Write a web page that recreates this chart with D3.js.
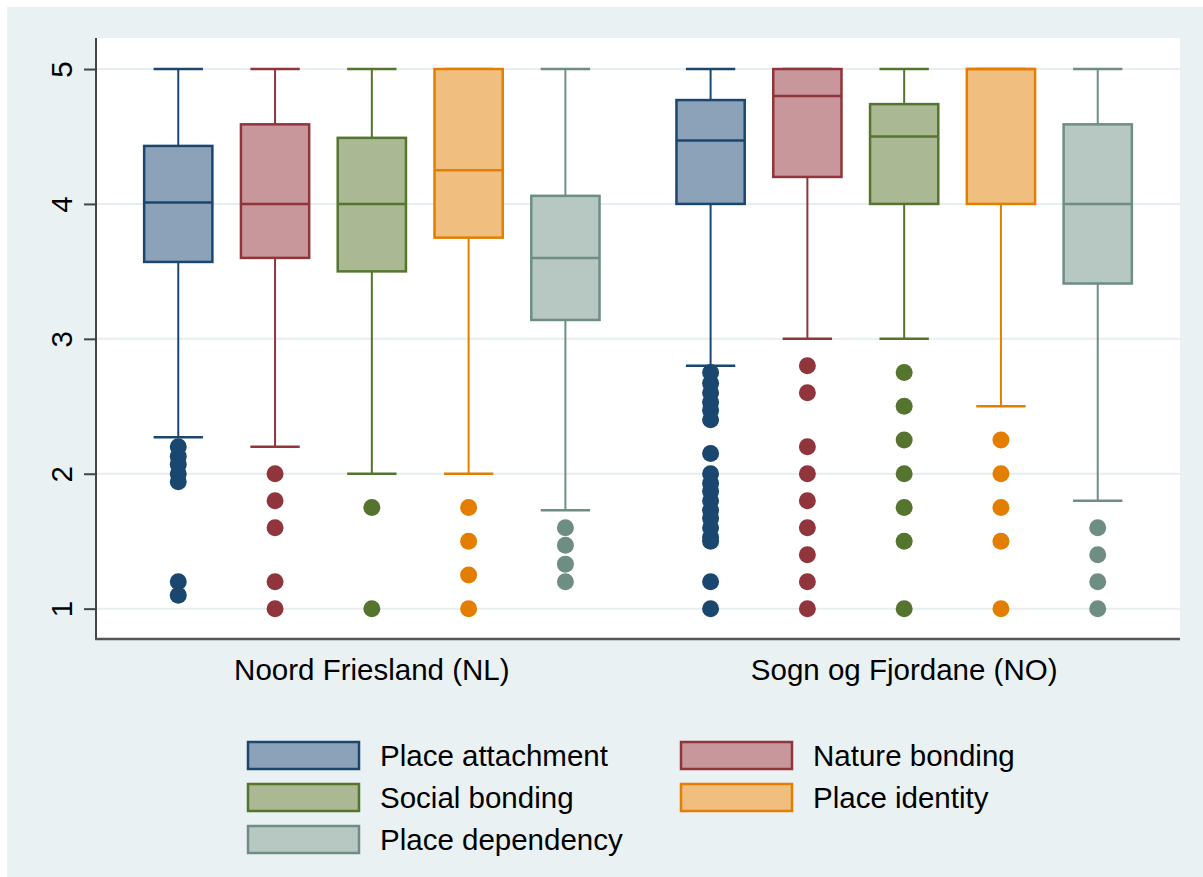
<!DOCTYPE html>
<html>
<head>
<meta charset="utf-8">
<script src="https://cdn.jsdelivr.net/npm/d3@7/dist/d3.min.js"></script>
<style>
  html, body { margin: 0; padding: 0; background: #ffffff; }
  svg { display: block; }
  text { font-family: "Liberation Sans", Arial, sans-serif; fill: #000; }
</style>
</head>
<body>
<svg id="chart" width="1203" height="877"></svg>
<script>
// Regions on the x axis
const groups = ["Noord Friesland (NL)", "Sogn og Fjordane (NO)"];
// Scales shown as boxes within each region
const series = ["Place attachment", "Nature bonding", "Social bonding", "Place identity", "Place dependency"];

// Box statistics per region (rows) and scale (columns)
const lowerWhisker = [[2.27, 2.2, 2.0, 2.0, 1.73], [2.8, 3.0, 3.0, 2.5, 1.8]];
const q1           = [[3.57, 3.6, 3.5, 3.75, 3.14], [4.0, 4.2, 4.0, 4.0, 3.41]];
const median       = [[4.01, 4.0, 4.0, 4.25, 3.6], [4.47, 4.8, 4.5, 5.0, 4.0]];
const q3           = [[4.43, 4.59, 4.49, 5.0, 4.06], [4.77, 5.0, 4.74, 5.0, 4.59]];
const upperWhisker = [[5, 5, 5, 5, 5], [5, 5, 5, 5, 5]];

// Outside values
const outliers = [
  [
    [2.2, 2.13, 2.07, 2.0, 1.94, 1.2, 1.1],
    [2.0, 1.8, 1.6, 1.2, 1.0],
    [1.75, 1.0],
    [1.75, 1.5, 1.25, 1.0],
    [1.6, 1.47, 1.33, 1.2]
  ],
  [
    [2.75, 2.67, 2.6, 2.53, 2.47, 2.4, 2.15, 2.0, 1.93, 1.87, 1.8, 1.73, 1.67, 1.6, 1.53, 1.5, 1.2, 1.0],
    [2.8, 2.6, 2.2, 2.0, 1.8, 1.6, 1.4, 1.2, 1.0],
    [2.75, 2.5, 2.25, 2.0, 1.75, 1.5, 1.0],
    [2.25, 2.0, 1.75, 1.5, 1.0],
    [1.6, 1.4, 1.2, 1.0]
  ]
];

const yTicks = [1, 2, 3, 4, 5];

// Styling
const lineColors = ["#1a476f", "#90353b", "#55752f", "#e37e00", "#6e8e84"];
const fillColors = ["#8ca2b8", "#c8979b", "#aab893", "#f0bf80", "#b7c7c1"];
const bg = "#eaf1f3";

const svg = d3.select("#chart");
const W = 1203, H = 877;
const plot = { left: 96, right: 1180, top: 38, bottom: 639 };

// Outer graph region
svg.append("rect").attr("x", 7).attr("y", 7).attr("width", W - 7).attr("height", H - 7).attr("fill", bg);
// Plot region
svg.append("rect")
  .attr("x", plot.left).attr("y", plot.top)
  .attr("width", plot.right - plot.left).attr("height", plot.bottom - plot.top)
  .attr("fill", "#ffffff");

// Positions: boxes are slots 0..4 in the first region, then a 1.5-slot gap
const groupOffset = 5.5;
const x = d3.scaleLinear().domain([-0.85, 10.35]).range([plot.left, plot.right]);
const y = d3.scaleLinear().domain([0.775, 5.23]).range([plot.bottom, plot.top]);
const slot = x(1) - x(0);
const boxW = slot * 0.705;
const capW = slot * 0.51;

// Grid lines
svg.append("g").selectAll("line").data(yTicks).join("line")
  .attr("x1", plot.left).attr("x2", plot.right)
  .attr("y1", d => y(d)).attr("y2", d => y(d))
  .attr("stroke", "#e6eef1").attr("stroke-width", 2);

// Y axis
const yAxis = d3.axisLeft(y).tickValues(yTicks).tickSize(12).tickPadding(0).tickFormat(d3.format("d"));
const gy = svg.append("g").attr("transform", `translate(${plot.left},0)`).call(yAxis);
gy.select(".domain").remove();
gy.selectAll(".tick line").attr("stroke", "#444").attr("stroke-width", 2);
gy.selectAll(".tick text")
  .attr("x", 0).attr("dy", null)
  .attr("transform", "translate(-24,0) rotate(-90)")
  .attr("text-anchor", "middle")
  .style("font-size", "29.5px").style("fill", "#000");

// Boxes
groups.forEach((g, gi) => {
  series.forEach((s, si) => {
    const cx = x(gi * groupOffset + si);
    const lc = lineColors[si], fc = fillColors[si];
    const layer = svg.append("g");
    // whiskers
    layer.append("line")
      .attr("x1", cx).attr("x2", cx)
      .attr("y1", y(q3[gi][si])).attr("y2", y(upperWhisker[gi][si]))
      .attr("stroke", lc).attr("stroke-width", 2);
    layer.append("line")
      .attr("x1", cx).attr("x2", cx)
      .attr("y1", y(q1[gi][si])).attr("y2", y(lowerWhisker[gi][si]))
      .attr("stroke", lc).attr("stroke-width", 2);
    // caps
    [upperWhisker[gi][si], lowerWhisker[gi][si]].forEach(v => {
      layer.append("line")
        .attr("x1", cx - capW / 2).attr("x2", cx + capW / 2)
        .attr("y1", y(v)).attr("y2", y(v))
        .attr("stroke", lc).attr("stroke-width", 2.5);
    });
    // box
    layer.append("rect")
      .attr("x", cx - boxW / 2).attr("width", boxW)
      .attr("y", y(q3[gi][si])).attr("height", y(q1[gi][si]) - y(q3[gi][si]))
      .attr("fill", fc).attr("stroke", lc).attr("stroke-width", 2.5);
    // median
    layer.append("line")
      .attr("x1", cx - boxW / 2).attr("x2", cx + boxW / 2)
      .attr("y1", y(median[gi][si])).attr("y2", y(median[gi][si]))
      .attr("stroke", lc).attr("stroke-width", 2.5);
    // outside values
    layer.selectAll("circle").data(outliers[gi][si]).join("circle")
      .attr("cx", cx).attr("cy", d => y(d)).attr("r", 8.5)
      .attr("fill", lc);
  });
});

// Axis lines
svg.append("line").attr("x1", plot.left).attr("x2", plot.left)
  .attr("y1", plot.top).attr("y2", plot.bottom + 1)
  .attr("stroke", "#444").attr("stroke-width", 2);
svg.append("line").attr("x1", plot.left - 1).attr("x2", plot.right)
  .attr("y1", plot.bottom).attr("y2", plot.bottom)
  .attr("stroke", "#555").attr("stroke-width", 2.5);

// Region labels
svg.append("g").selectAll("text").data(groups).join("text")
  .attr("x", (d, i) => x(i * groupOffset + 2))
  .attr("y", 680)
  .attr("text-anchor", "middle")
  .style("font-size", "29.5px")
  .text(d => d);

// Legend: two columns, filled left-to-right
const legendCols = [247, 680];
const legendRows = [741, 783, 825];
const legend = svg.append("g");
series.forEach((s, i) => {
  const lx = legendCols[i % 2], ly = legendRows[Math.floor(i / 2)];
  legend.append("rect")
    .attr("x", lx + 1).attr("y", ly + 1).attr("width", 111).attr("height", 27)
    .attr("fill", fillColors[i]).attr("stroke", lineColors[i]).attr("stroke-width", 2.5);
  legend.append("text")
    .attr("x", lx + 133).attr("y", ly + 25)
    .style("font-size", "29.5px")
    .text(s);
});
</script>
</body>
</html>
